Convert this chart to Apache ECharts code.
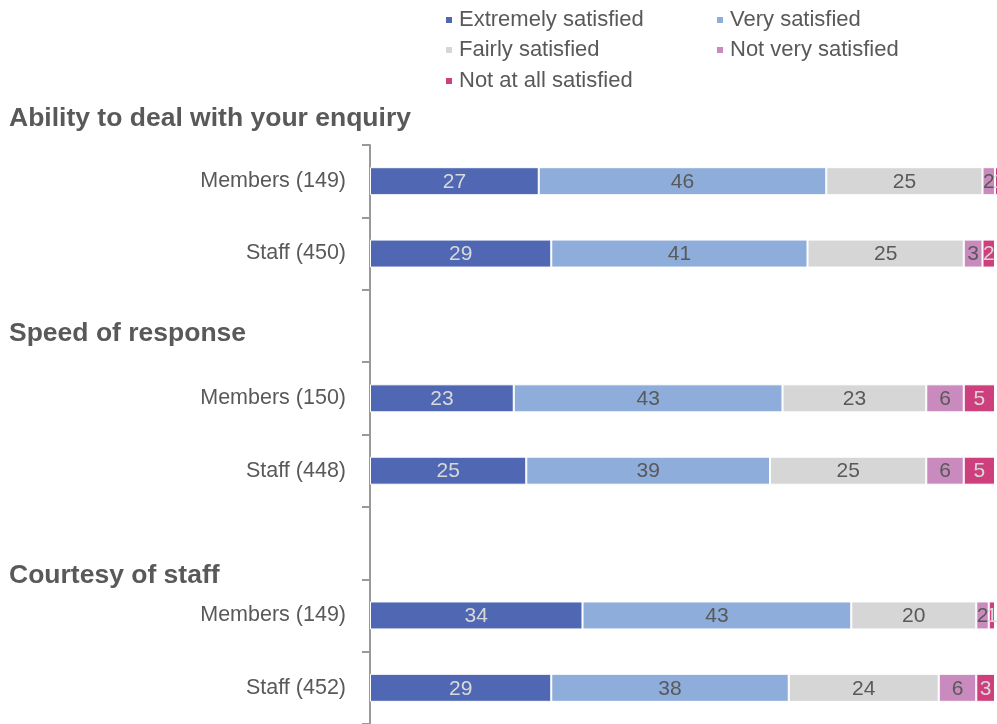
<!DOCTYPE html>
<html>
<head>
<meta charset="utf-8">
<script src="https://cdn.jsdelivr.net/npm/echarts@6/dist/echarts.min.js"></script>
<style>html,body{margin:0;padding:0;background:#fff}#c{width:997px;height:724px}</style>
</head>
<body>
<div id="c"></div>
<script>
var categories = ['Members (149)', 'Staff (450)', '', 'Members (150)', 'Staff (448)', '', 'Members (149)', 'Staff (452)'];
var seriesNames = ['Extremely satisfied', 'Very satisfied', 'Fairly satisfied', 'Not very satisfied', 'Not at all satisfied'];
var extremely = [27, 29, null, 23, 25, null, 34, 29];
var very = [46, 41, null, 43, 39, null, 43, 38];
var fairly = [25, 25, null, 23, 25, null, 20, 24];
var notVery = [2, 3, null, 6, 6, null, 2, 6];
var notAtAll = [1, 2, null, 5, 5, null, 1, 3];
var sectionTitles = ['Ability to deal with your enquiry', 'Speed of response', 'Courtesy of staff'];

var colors = ['#5068b4', '#8eaddb', '#d6d6d6', '#c98bbe', '#cd3f7d'];
var labelColors = ['#d9d9d9', '#595959', '#595959', '#595959', '#d9d9d9'];
var values = [extremely, very, fairly, notVery, notAtAll];
var font = 'Liberation Sans, Arial, sans-serif';

var chart = echarts.init(document.getElementById('c'));
var series = values.map(function (v, i) {
  return {
    name: seriesNames[i], type: 'bar', stack: 'total', barWidth: 28, clip: false,
    data: v,
    itemStyle: { color: colors[i], borderColor: '#fff', borderWidth: 1 },
    label: { show: true, position: 'inside', color: labelColors[i], fontSize: 21, fontFamily: font, offset: [0, 1] },
    emphasis: { disabled: true }
  };
});
var legendPos = [[444, 9], [715, 9], [444, 39], [715, 39], [444, 70]];
var legends = seriesNames.map(function (n, i) {
  return {
    left: legendPos[i][0], top: legendPos[i][1], data: [n], icon: 'rect',
    itemWidth: 8, itemHeight: 8, itemGap: 0, padding: 0,
    textStyle: { color: '#595959', fontSize: 22, fontFamily: font, padding: [0, 0, 0, 1] },
    selectedMode: false
  };
});
var titleY = [118, 333, 575];
chart.setOption({
  animation: false,
  legend: legends,
  grid: { left: 370, top: 145, width: 625, height: 582.4 },
  xAxis: { type: 'value', min: 0, max: 100, show: false },
  yAxis: {
    type: 'category', inverse: true, data: categories,
    axisLine: { lineStyle: { color: '#999', width: 2 } },
    axisTick: { show: true, length: 8, lineStyle: { color: '#999', width: 2 } },
    axisLabel: { color: '#595959', fontSize: 21.5, fontFamily: font, margin: 24 }
  },
  graphic: sectionTitles.map(function (t, i) {
    return {
      type: 'text', left: 9, top: titleY[i] - 13,
      style: { text: t, fill: '#595959', font: 'bold 26.5px ' + font }
    };
  }),
  series: series
});
</script>
</body>
</html>
